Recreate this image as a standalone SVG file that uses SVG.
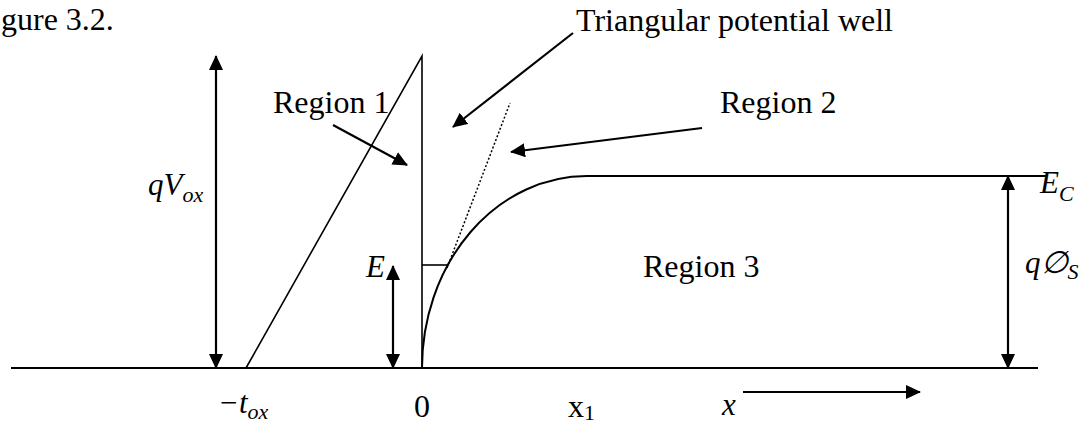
<svg xmlns="http://www.w3.org/2000/svg" width="1079" height="426" viewBox="0 0 1079 426">
<style>
.t{font-family:"Liberation Serif","Times New Roman",serif;font-size:32px;fill:#000}
.m{font-family:"Liberation Serif","Times New Roman",serif;font-style:italic;font-size:31px;fill:#000}
.sub{font-size:22px}
.ln{stroke:#000;stroke-width:2;fill:none}
.thin{stroke:#000;stroke-width:1.6;fill:none}
.arr{stroke:#000;stroke-width:2.2;fill:none;marker-end:url(#ah)}
.dbl{stroke:#000;stroke-width:2.2;fill:none;marker-end:url(#ah);marker-start:url(#ah)}
</style>
<defs>
<marker id="ah" markerUnits="userSpaceOnUse" markerWidth="16" markerHeight="16" refX="14" refY="7" orient="auto-start-reverse">
<path d="M0,0 L15,7 L0,14 z" fill="#000"/>
</marker>
</defs>
<rect width="1079" height="426" fill="#fff"/>
<g id="axes">
<line class="ln" x1="11" y1="368" x2="1038" y2="368"/>
<line class="ln" x1="587" y1="176" x2="1046" y2="176"/>
</g>
<g id="oxide">
<polyline class="thin" points="246,368 422,56 422,368"/>
</g>
<g id="band">
<path class="ln" d="M422,368 A165,192 0 0 1 587,176"/>
<line class="thin" x1="422" y1="265" x2="449" y2="265"/>
<line stroke="#000" stroke-width="1.5" stroke-dasharray="2,2" x1="447" y1="268" x2="510" y2="103"/>
</g>
<g id="connectors">
<line class="dbl" x1="216" y1="56" x2="216" y2="368"/>
<line class="dbl" x1="1008" y1="176" x2="1008" y2="368"/>
<line class="dbl" x1="393" y1="266" x2="393" y2="368"/>
<line class="arr" x1="573" y1="33" x2="453" y2="127"/>
<line class="arr" x1="333" y1="125" x2="407" y2="165"/>
<line class="arr" x1="702" y1="128" x2="511" y2="152"/>
<line class="arr" x1="743" y1="392" x2="920" y2="392"/>
</g>
<g id="labels">
<text class="t" x="1" y="30">gure 3.2.</text>
<text class="t" x="576" y="31">Triangular potential well</text>
<text class="t" x="273" y="113">Region 1</text>
<text class="t" x="720" y="113">Region 2</text>
<text class="t" x="643" y="277">Region 3</text>
<text class="m" x="148" y="195">qV<tspan class="sub" dy="7">ox</tspan></text>
<text class="m" x="366" y="277">E</text>
<text class="m" x="1040" y="193">E<tspan class="sub" dy="8">C</tspan></text>
<text class="m" x="1025" y="273">q∅<tspan class="sub" dy="6">S</tspan></text>
<text class="m" x="218" y="413">−t<tspan class="sub" dy="6">ox</tspan></text>
<text class="t" x="414" y="417">0</text>
<text class="t" x="568" y="417">x<tspan class="sub" dy="3">1</tspan></text>
<text class="m" x="722" y="415">x</text>
</g>
</svg>
